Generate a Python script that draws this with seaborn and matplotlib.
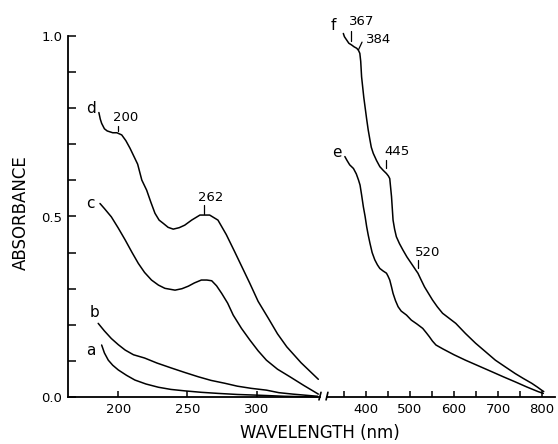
import numpy as np
import pandas as pd
import matplotlib
matplotlib.use("Agg")
import matplotlib.pyplot as plt
import seaborn as sns

# ---- data ----
wl_a = [188, 190, 192.8, 196, 200, 206, 212, 220, 229, 238, 248, 260, 272, 286, 301, 320, 344]
ab_a = [0.144, 0.122, 0.102, 0.088, 0.075, 0.060, 0.047, 0.036, 0.027, 0.021, 0.017, 0.013, 0.010, 0.007, 0.005, 0.002, 0.0]

wl_b = [185.5, 190, 195, 200, 205, 211, 219, 228, 238.6, 248, 257.8, 267, 277, 286, 296, 307, 316, 326, 344]
ab_b = [0.204, 0.183, 0.162, 0.145, 0.130, 0.117, 0.108, 0.094, 0.080, 0.068, 0.056, 0.046, 0.038, 0.030, 0.024, 0.019, 0.012, 0.008, 0.002]

wl_c = [186.8, 190, 195, 200, 205, 210, 214.5, 219, 224, 229, 233.7, 241, 246, 250.6, 255, 260, 264, 267.5,
        271, 274.7, 279, 283, 289, 295, 301, 307, 315, 324, 334, 344.5]
ab_c = [0.536, 0.522, 0.499, 0.468, 0.435, 0.400, 0.370, 0.345, 0.324, 0.310, 0.301, 0.296, 0.300, 0.307, 0.316, 0.324, 0.324, 0.322,
        0.308, 0.287, 0.260, 0.227, 0.190, 0.158, 0.128, 0.102, 0.077, 0.056, 0.032, 0.008]

wl_d = [186, 187, 188, 190, 192, 196, 199, 202.5, 205.5, 208.5, 214, 217, 220.5, 223.5, 226.5, 229.5, 232.5, 236, 239.7,
        244, 248, 253, 259, 266, 272, 278, 284, 290, 295, 301, 308.4, 315, 321.7, 332, 344.5]
ab_d = [0.788, 0.770, 0.758, 0.743, 0.737, 0.732, 0.732, 0.726, 0.710, 0.689, 0.645, 0.601, 0.573, 0.540, 0.509, 0.490, 0.481, 0.470, 0.465,
        0.469, 0.476, 0.490, 0.504, 0.504, 0.490, 0.450, 0.403, 0.355, 0.315, 0.265, 0.218, 0.175, 0.139, 0.095, 0.049]

wl_e = [352, 357, 363, 371.5, 378, 383, 386.5, 390, 394, 398, 401.5, 405, 409, 414, 420, 426, 431.5, 439, 446.5, 450, 454,
        458, 461.5, 467, 473, 480, 492, 503, 516, 529, 537, 544, 551, 559, 575, 600, 626, 656, 686, 712, 739, 765, 791, 803]
ab_e = [0.666, 0.655, 0.643, 0.633, 0.618, 0.601, 0.587, 0.560, 0.527, 0.500, 0.472, 0.449, 0.426, 0.400, 0.380, 0.366, 0.356, 0.349, 0.343, 0.335, 0.324,
        0.305, 0.287, 0.267, 0.250, 0.238, 0.227, 0.213, 0.202, 0.190, 0.178, 0.167, 0.155, 0.144, 0.133, 0.117, 0.102, 0.086, 0.070, 0.056, 0.042, 0.028, 0.015, 0.010]

wl_f = [348.5, 351, 356, 361, 367.5, 373, 379, 383, 386, 388, 390, 395, 401.5, 405, 409, 412, 416.5, 424, 431.5, 439, 446.5,
        451, 454, 456, 458, 461.5, 465, 469, 476, 484, 493, 503, 514, 518, 525, 533, 542, 551, 562, 574, 589, 604, 626, 649,
        672, 694, 717, 739, 758, 776.6, 790, 799, 804]
ab_f = [1.007, 0.998, 0.989, 0.980, 0.975, 0.970, 0.966, 0.960, 0.952, 0.930, 0.887, 0.830, 0.770, 0.740, 0.712, 0.692, 0.675, 0.655, 0.638, 0.628, 0.619,
        0.612, 0.605, 0.580, 0.555, 0.490, 0.465, 0.444, 0.425, 0.407, 0.388, 0.370, 0.350, 0.343, 0.325, 0.305, 0.287, 0.269, 0.250, 0.232, 0.218, 0.204, 0.176, 0.149,
        0.125, 0.102, 0.083, 0.065, 0.051, 0.038, 0.027, 0.019, 0.015]

left_xticks = [200, 250, 300]
right_xticks = [400, 500, 600, 700, 800]
right_minor = [350, 450, 550, 650, 750]
y_major = [0.0, 0.5, 1.0]
y_minor = [0.1, 0.2, 0.3, 0.4, 0.6, 0.7, 0.8, 0.9]

# curve letter labels: (text, x, y)
left_letters = [("d", 180, 0.80), ("c", 180, 0.537), ("b", 183, 0.233), ("a", 180, 0.13)]
right_letters = [("f", 325, 1.03), ("e", 334, 0.676)]
# peak annotations: (text, text_x, text_y, mark_x, mark_y0, mark_y1)
left_peaks = [("200", 205.5, 0.773, 200, 0.737, 0.752), ("262", 267, 0.553, 262, 0.507, 0.533)]
right_peaks = [("367", 390, 1.039, 366, 0.985, 1.013), ("445", 470, 0.679, 445, 0.634, 0.656),
               ("520", 541, 0.399, 518, 0.357, 0.379)]

# ---- figure ----
sns.set_style("ticks")
plt.rcParams['font.family'] = ['DejaVu Sans']
plt.rcParams.update({"text.color": "black", "axes.labelcolor": "black",
                     "xtick.color": "black", "ytick.color": "black"})

fig = plt.figure(figsize=(5.58, 4.44), dpi=100)
W, H = 558, 444
axL = fig.add_axes([68 / W, 1 - 397 / H, (320 - 68) / W, (397 - 36) / H])
axR = fig.add_axes([327 / W, 1 - 397 / H, (555 - 327) / W, (397 - 36) / H], sharey=axL)

lw = 1.1
for wl, ab in [(wl_a, ab_a), (wl_b, ab_b), (wl_c, ab_c), (wl_d, ab_d)]:
    df = pd.DataFrame({"wl": wl, "ab": ab})
    sns.lineplot(data=df, x="wl", y="ab", ax=axL, color="black", lw=lw, sort=False, estimator=None)
for wl, ab in [(wl_e, ab_e), (wl_f, ab_f)]:
    df = pd.DataFrame({"wl": wl, "ab": ab})
    sns.lineplot(data=df, x="wl", y="ab", ax=axR, color="black", lw=lw, sort=False, estimator=None)
for ax in (axL, axR):
    for ln in ax.get_lines():
        ln.set_clip_on(False)
        ln.set_solid_joinstyle("round")

axL.set_xlim(163.7, 345.7)
axR.set_xlim(311.4, 829.5)
axL.set_ylim(0, 1.0)

# spines
axL.spines['top'].set_visible(False)
axL.spines['right'].set_visible(False)
for s in ['top', 'right', 'left']:
    axR.spines[s].set_visible(False)
for ax in (axL, axR):
    for s in ax.spines.values():
        s.set_linewidth(1.3)
        s.set_color("black")

fs_tick = 9.5
axL.set_xticks(left_xticks)
axL.set_xticklabels([str(t) for t in left_xticks])
axL.set_yticks(y_major)
axL.set_yticklabels(["0.0", "0.5", "1.0"])
axL.set_yticks(y_minor, minor=True)
axL.tick_params(axis='y', which='both', direction='in', length=6, width=1.1, pad=4, labelsize=fs_tick, colors="black")
axL.tick_params(axis='x', which='both', direction='in', length=4, width=1.1, pad=4, labelsize=fs_tick, colors="black")

axR.set_xticks(right_xticks)
axR.set_xticklabels([str(t) for t in right_xticks])
axR.set_xticks(right_minor, minor=True)
axR.tick_params(axis='x', which='both', direction='in', length=4, width=1.1, pad=4, labelsize=fs_tick, colors="black")
axR.tick_params(axis='y', which='both', left=False, labelleft=False)
axR.set_ylabel("")
axR.set_xlabel("")

axL.set_ylabel("ABSORBANCE", fontsize=12, color="black")
axL.yaxis.set_label_coords(-0.15, 0.51)
axL.set_xlabel("WAVELENGTH (nm)", fontsize=12, va="center", color="black")
axL.xaxis.set_label_coords(1.0, -0.1)

# axis break marks
axL.plot([1.0 - 0.004, 1.0 + 0.004], [-0.008, 0.013], transform=axL.transAxes, color="black", lw=1.2, clip_on=False)
axR.plot([-0.004, 0.004], [-0.008, 0.013], transform=axR.transAxes, color="black", lw=1.2, clip_on=False)

fs_ann = 9.5
for t, x, y in left_letters:
    axL.text(x, y, t, fontsize=11, ha="center", va="center", color="black")
for t, x, y in right_letters:
    axR.text(x, y, t, fontsize=11, ha="center", va="center", color="black")
for t, tx, ty, mx, y0, y1 in left_peaks:
    axL.text(tx, ty, t, fontsize=fs_ann, ha="center", va="center", color="black")
    axL.plot([mx, mx], [y0, y1], color="black", lw=0.9)
for t, tx, ty, mx, y0, y1 in right_peaks:
    axR.text(tx, ty, t, fontsize=fs_ann, ha="center", va="center", color="black")
    axR.plot([mx, mx], [y0, y1], color="black", lw=0.9, clip_on=False)
# 384 with slanted mark
axR.text(429, 0.989, "384", fontsize=fs_ann, ha="center", va="center", color="black")
axR.plot([391, 383], [0.983, 0.962], color="black", lw=0.9)

fig.savefig("out.png", dpi=100)
